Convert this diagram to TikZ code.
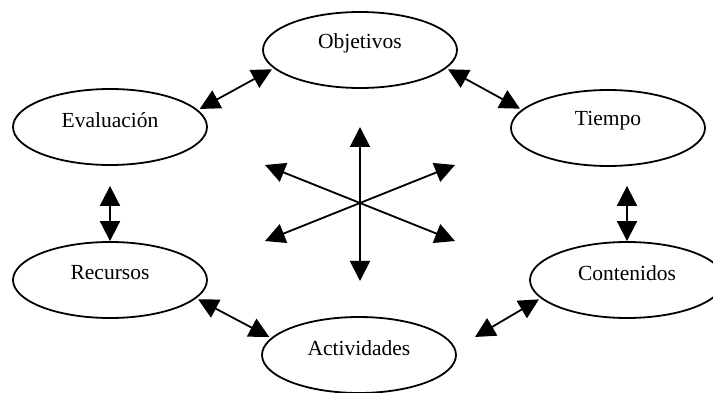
\documentclass[tikz,border=0pt]{standalone}
\usepackage{fontspec}
\setmainfont{Liberation Serif}
\usetikzlibrary{shapes.geometric,arrows.meta,calc}

\tikzset{
  stage/.style={ellipse, draw, line width=1.8pt, minimum width=194pt,
    minimum height=76pt, inner sep=0pt, font=\fontsize{21.5}{24}\selectfont},
  link/.style={line width=1.8pt, {Triangle[length=20pt,width=20pt]}-{Triangle[length=20pt,width=20pt]}},
  ray/.style={line width=1.8pt, -{Triangle[length=20pt,width=20pt]}},
}
% label lifted inside its ellipse, keeping the box size unchanged
\newcommand{\lbl}[1]{\raisebox{7pt}[\height][\depth]{#1}}

\begin{document}
\begin{tikzpicture}[x=1pt,y=-1pt]
  \useasboundingbox (0,0) rectangle (713,393);

  % the six stages of the cycle
  \node[stage] (obj)  at (360,50)  {\lbl{Objetivos}};
  \node[stage] (eval) at (110,127) {\lbl{Evaluación}};
  \node[stage] (tiem) at (608,128) {\lbl{Tiempo}};
  \node[stage] (rec)  at (110,280) {\lbl{Recursos}};
  \node[stage] (cont) at (627,280) {\lbl{Contenidos}};
  \node[stage] (act)  at (359,355) {\lbl{Actividades}};

  % links between neighbouring stages
  \draw[link, shorten <=2pt, shorten >=2pt] (obj.192) -- (eval.11);
  \draw[link, shorten <=2pt, shorten >=2pt] (obj.-12) -- (tiem.168);
  \draw[link, shorten <=20pt] (eval.south) -- (rec.north);
  \coordinate (tiemB) at (tiem.south -| cont.north);
  \draw[link, shorten <=19pt] (tiemB) -- (cont.north);
  \draw[link, shorten <=2pt, shorten >=2pt] (rec.-12) -- (act.169);
  \coordinate (actR) at ($(act.center)+(116,-18)$);
  \draw[link, shorten <=2pt] (cont.192) -- (actR);

  % central star of arrows
  \coordinate (hub) at (360,203);
  \coordinate (up) at (360,127);
  \coordinate (dn) at (360,281);
  \coordinate (ul) at (265,165);
  \coordinate (ur) at (455,165);
  \coordinate (ll) at (265,241);
  \coordinate (lr) at (455,241);
  \foreach \t in {up,dn,ul,ur,ll,lr} \draw[ray] (hub) -- (\t);
\end{tikzpicture}
\end{document}
